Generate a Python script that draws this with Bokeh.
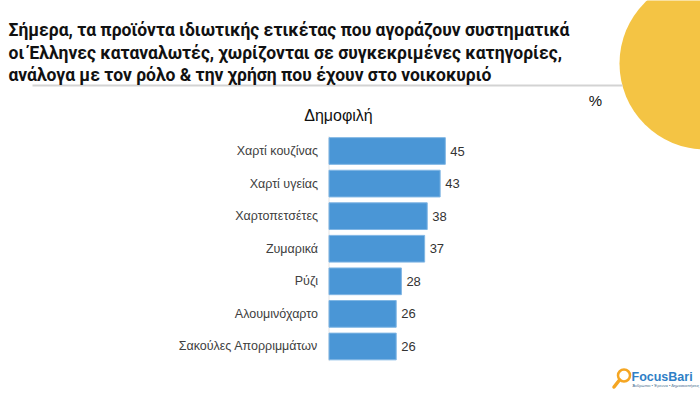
from bokeh.plotting import figure
from bokeh.models import Range1d
from bokeh.core.properties import value
from bokeh.embed import file_html
from bokeh.resources import INLINE

# ---- data ----
categories = ["Χαρτί κουζίνας", "Χαρτί υγείας", "Χαρτοπετσέτες", "Ζυμαρικά",
              "Ρύζι", "Αλουμινόχαρτο", "Σακούλες Απορριμμάτων"]
values = [45, 43, 38, 37, 28, 26, 26]
value_labels = [str(v) for v in values]
title_lines = [
    "Σήμερα, τα προϊόντα ιδιωτικής ετικέτας που αγοράζουν συστηματικά",
    "οι Έλληνες καταναλωτές, χωρίζονται σε συγκεκριμένες κατηγορίες,",
    "ανάλογα με τον ρόλο & την χρήση που έχουν στο νοικοκυριό",
]
series_title = "Δημοφιλή"
unit_label = "%"

idx = list(range(len(categories)))

W, H = 700, 394
X0, X1 = 0, 700
Y0, Y1 = 0, 394

# value scale: 0 -> px 328.5, 2.585 px per unit
zero_px, ppu = 328.5, 2.585
row0_px, row_step = 150.5, 32.58

x_range = Range1d((X0 - zero_px) / ppu, (X1 - zero_px) / ppu)
y_range = Range1d((Y1 - row0_px) / row_step, (Y0 - row0_px) / row_step)

p = figure(width=W, height=H, output_backend="svg", toolbar_location=None,
           x_range=x_range, y_range=y_range, min_border=0,
           background_fill_color="white", border_fill_color="white")
p.extra_x_ranges = {"px": Range1d(X0, X1)}
p.extra_y_ranges = {"px": Range1d(Y1, Y0)}
p.axis.visible = False
p.xgrid.visible = False
p.ygrid.visible = False
p.outline_line_color = None

# decorative yellow circle (top right)
p.scatter(x=[705], y=[63], size=172, marker="circle", fill_color="#F4C444",
          line_color=None, x_range_name="px", y_range_name="px")

# separator line under the title
p.segment(x0=[32], y0=[85], x1=[622], y1=[85], line_color="#D3D3D3",
          line_width=2, x_range_name="px", y_range_name="px")

# title
title_font = value("Roboto, 'Liberation Sans', sans-serif")
p.text(x=[8, 8, 8], y=[29, 52, 74], text=title_lines, text_font=title_font,
       text_font_size="17.5px", text_font_style="bold", text_color="#111111",
       text_align="left", text_baseline="alphabetic",
       x_range_name="px", y_range_name="px")

body_font = value("'Liberation Sans', Arial, sans-serif")

p.text(x=[338], y=[115], text=[series_title], text_font=body_font,
       text_font_size="16px", text_color="#111111", text_align="center",
       text_baseline="middle", x_range_name="px", y_range_name="px")
p.text(x=[595], y=[100], text=[unit_label], text_font=body_font,
       text_font_size="15px", text_color="#111111", text_align="center",
       text_baseline="middle", x_range_name="px", y_range_name="px")

# faint axis line
p.segment(x0=[0], y0=[-0.45], x1=[0], y1=[len(categories) - 0.55],
          line_color="#E4E4E4", line_width=1)

# bars
p.hbar(y=idx, left=0, right=values, height=0.82, fill_color="#4A96D6",
       line_color="#80B6E4", line_width=1)

# category labels
p.text(x=[0] * len(idx), y=idx, text=categories, x_offset=-11,
       text_font=body_font, text_font_size="12.5px", text_color="#404040",
       text_align="right", text_baseline="middle")

# value labels
p.text(x=values, y=idx, text=value_labels, x_offset=5,
       text_font=body_font, text_font_size="13px", text_color="#333333",
       text_align="left", text_baseline="middle")

# logo
p.segment(x0=[619], y0=[379.5], x1=[613.5], y1=[386.5], line_color="#F5A623",
          line_width=3.5, line_cap="round", x_range_name="px", y_range_name="px")
p.scatter(x=[623.5], y=[375], size=12, marker="circle", fill_color=None,
          line_color="#F5A623", line_width=2.5, x_range_name="px", y_range_name="px")
p.text(x=[631], y=[376], text=["FocusBari"], text_font=body_font,
       text_font_size="12.5px", text_font_style="bold", text_color="#2F7FC6",
       text_align="left", text_baseline="middle",
       x_range_name="px", y_range_name="px")
p.text(x=[632], y=[385], text=["Άνθρωποι • Έρευνα • Δημοσκοπήσεις"],
       text_font=body_font, text_font_size="4px", text_color="#4A6F90",
       text_align="left", text_baseline="middle",
       x_range_name="px", y_range_name="px")

open("out.html", "w").write(file_html(p, INLINE))
